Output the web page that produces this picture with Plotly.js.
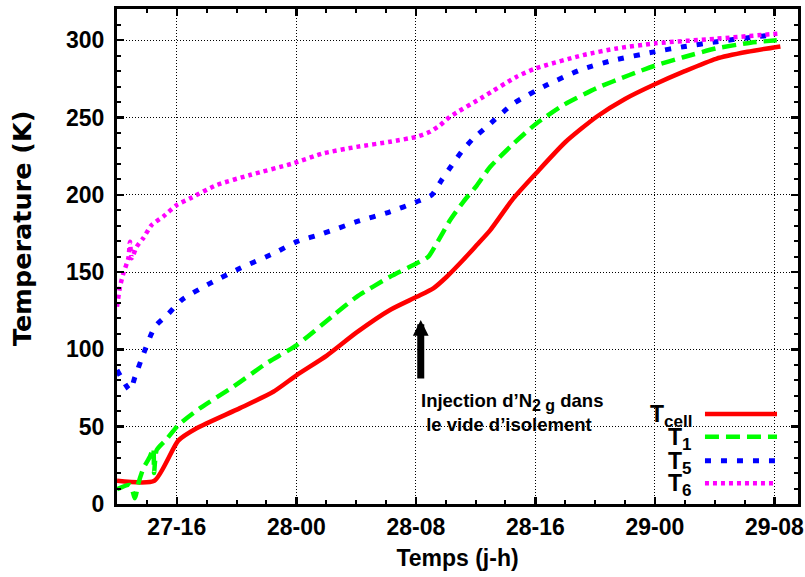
<!DOCTYPE html>
<html>
<head>
<meta charset="utf-8">
<script src="https://cdn.plot.ly/plotly-3.0.1.min.js"></script>
<style>html,body{margin:0;padding:0;background:#fff;}#chart{width:805px;height:577px;}</style>
</head>
<body>
<div id="chart"></div>
<script>
// Time in hours counted from day 27, 00:00
const tickHours = [16, 24, 32, 40, 48, 56];
const tickLabels = ['27-16', '28-00', '28-08', '28-16', '29-00', '29-08'];

const seriesNames = ['T<sub><span style="font-size:17px">cell</span></sub>',
                     'T<sub><span style="font-size:17px">1</span></sub>',
                     'T<sub><span style="font-size:17px">5</span></sub>',
                     'T<sub><span style="font-size:17px">6</span></sub>'];

const tcellHours = [12, 14.5, 16.1, 17.33, 20.23, 22.46, 24.03, 26.04, 28.04, 30.27, 32.06, 33.17, 34.07, 35.18, 36.08, 36.97, 38.53, 40.05, 42.0, 44.1, 46.0, 48.0, 50.0, 52.1, 54.2, 56.4];
const tcellTemp  = [15, 15, 41, 49, 62, 72.6, 83.4, 96, 111, 125.5, 134, 139.5, 147, 158, 167.5, 177, 197.7, 214, 234, 250.5, 262, 271.5, 280, 288, 292.5, 296];

const t1Hours = [12, 12.87, 13.2, 13.43, 13.76, 14.2, 14.43, 14.48, 14.66, 15.33, 16.1, 17.56, 19.8, 22.0, 24.03, 26.48, 28.04, 30.27, 32.06, 32.84, 33.4, 34.3, 35.18, 36.08, 36.97, 38.53, 40.05, 41.87, 44.1, 46.3, 48, 49.9, 52.1, 54.4, 56.16];
const t1Temp  = [9.5, 12.3, 3.7, 13.4, 23, 30.6, 36, 20, 35, 42, 51, 62, 76, 91, 102.8, 122, 134, 147, 155.7, 160, 168.6, 183.7, 195.5, 206, 218, 233, 246, 258, 269, 277.5, 283.5, 289, 294.7, 298.4, 300];

const t5Hours = [12, 12.87, 13.2, 13.65, 14.54, 15.43, 16.33, 18.22, 20.23, 22.46, 24.03, 25.8, 28.04, 30.27, 32.06, 33.07, 33.73, 34.4, 35.07, 35.85, 36.75, 38.53, 40.76, 42.99, 45.2, 48.03, 49.9, 52.14, 54.37, 55.8];
const t5Temp  = [86.7, 73.7, 82, 94, 114.7, 123, 132, 142.7, 152.5, 162, 169.7, 175, 182.6, 189, 195.5, 200, 209.6, 219, 228, 236.5, 244, 259, 271, 280.7, 287, 292.6, 295.8, 299, 301.8, 303.3];

const t6Hours = [12, 12.2, 12.42, 12.76, 12.87, 12.98, 13.32, 13.76, 14.32, 15.1, 16.0, 16.89, 18.67, 20.9, 23.8, 25.8, 28.04, 30.27, 32.06, 32.95, 33.62, 34.29, 36.52, 38.75, 40.03, 43.2, 45.45, 48.03, 52.14, 56.38];
const t6Temp  = [127.6, 140.5, 149, 159, 169.7, 159, 166.4, 172, 180.5, 186, 193.4, 197.7, 206.3, 212.8, 220.4, 226.8, 231, 234.3, 237.6, 240.8, 245, 250.5, 263.4, 276.4, 281.8, 290.4, 294.7, 298, 301, 304.4];

const arrowHour = 32.33, arrowTemp = 119;
const noteText = 'Injection d\u2019N<sub><span style="font-size:16px">2 g</span></sub> dans<br>\u00a0le vide d\u2019isolement';
const xTitle = 'Temps (j-h)';
const yTitle = 'Temperature (K)';

const colors = ['#ff0000', '#00ff00', '#0000ff', '#ff00ff'];
const dashes = ['solid', '14px,7px', '6px,10px', '4px,4px'];
const widths = [4.5, 4.5, 5, 4.5];
const xs = [tcellHours, t1Hours, t5Hours, t6Hours];
const ys = [tcellTemp, t1Temp, t5Temp, t6Temp];

const traces = xs.map((x, i) => ({
  x: x, y: ys[i], type: 'scatter', mode: 'lines', name: seriesNames[i],
  showlegend: false, line: {color: colors[i], width: widths[i], dash: dashes[i], shape: 'spline', smoothing: 0.6}
}));

const FONT = 'Liberation Sans, Arial, sans-serif';

// manual legend (text left of sample line, like gnuplot)
const legY = [0.1818, 0.136, 0.0875, 0.0418];
const shapes = [{type: 'rect', xref: 'paper', yref: 'paper', x0: 0.758, x1: 0.972, y0: 0.008, y1: 0.21,
                 fillcolor: '#ffffff', line: {width: 0}, layer: 'between'}];
const annotations = [];
seriesNames.forEach((n, i) => {
  shapes.push({type: 'line', xref: 'paper', yref: 'paper', x0: 0.8634, x1: 0.9692, y0: legY[i], y1: legY[i],
               line: {color: colors[i], width: widths[i], dash: dashes[i]}, layer: 'above'});
  annotations.push({xref: 'paper', yref: 'paper', x: 0.847, y: legY[i] - 0.004, xanchor: 'right', yanchor: 'middle',
                    text: n, showarrow: false, font: {family: FONT, size: 23, weight: 'bold', color: '#000'}});
});
annotations.push({x: arrowHour, y: arrowTemp, xref: 'x', yref: 'y', text: '', showarrow: true,
                  ax: 0, ay: 60, arrowhead: 2, arrowsize: 0.45, arrowwidth: 7, arrowcolor: '#000', standoff: 0});
annotations.push({xref: 'paper', yref: 'paper', x: 0.4435, y: 0.234, xanchor: 'left', yanchor: 'top', align: 'left',
                  text: noteText, showarrow: false, font: {family: FONT, size: 18.5, weight: 'bold', color: '#000'}});
// y-axis title placed like the reference (slightly above the axis centre)
annotations.push({xref: 'paper', yref: 'paper', x: -0.1395, y: 0.5556, xanchor: 'center', yanchor: 'middle',
                  textangle: -90, text: yTitle, showarrow: false,
                  font: {family: 'DejaVu Sans, sans-serif', size: 25.5, weight: 'bold', color: '#000'}});

const axisCommon = {
  showline: true, linewidth: 3, linecolor: '#000', mirror: 'ticks',
  ticks: 'inside', ticklen: 7, tickwidth: 2.5, tickcolor: '#000',
  showgrid: true, gridcolor: '#000', gridwidth: 1, griddash: '1px,2px',
  zeroline: false, tickfont: {family: FONT, size: 23, weight: 'bold', color: '#000'}
};

const layout = {
  width: 805, height: 577,
  margin: {l: 117, r: 7, t: 9, b: 73},
  paper_bgcolor: '#fff', plot_bgcolor: '#fff',
  showlegend: false,
  xaxis: Object.assign({}, axisCommon, {
    range: [12, 57.58], tickmode: 'array', tickvals: tickHours, ticktext: tickLabels,
    minor: {tickmode: 'linear', tick0: 0, dtick: 2, ticks: 'inside', ticklen: 4, tickwidth: 2, tickcolor: '#000', showgrid: false},
    title: {text: xTitle, font: {family: FONT, size: 23, weight: 'bold', color: '#000'}, standoff: 12}
  }),
  yaxis: Object.assign({}, axisCommon, {
    range: [0, 320.2], tickmode: 'linear', tick0: 0, dtick: 50, ticklabelstandoff: 5,
    minor: {tickmode: 'linear', tick0: 0, dtick: 10, ticks: 'inside', ticklen: 4, tickwidth: 2, tickcolor: '#000', showgrid: false}
  }),
  shapes: shapes,
  annotations: annotations
};

Plotly.newPlot('chart', traces, layout, {displayModeBar: false, staticPlot: true});
</script>
</body>
</html>
